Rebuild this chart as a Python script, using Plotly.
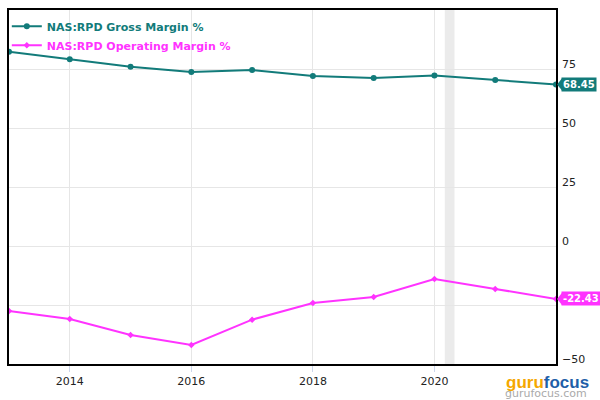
import plotly.graph_objects as go

years = [2013, 2014, 2015, 2016, 2017, 2018, 2019, 2020, 2021, 2022]
gross_margin = [82.3, 79.1, 76.0, 73.7, 74.6, 72.0, 71.2, 72.2, 70.3, 68.45]
operating_margin = [-27.5, -30.9, -37.7, -41.9, -31.2, -24.2, -21.6, -14.0, -18.2, -22.43]
recession = [2020.17, 2020.33]
x_ticks = [2014, 2016, 2018, 2020]
y_ticks = [-50, -25, 0, 25, 50, 75]
y_tick_text = ["\u221250", "", "0", "25", "50", "75"]

teal = "#127b7a"
magenta = "#ff33ff"
font = "DejaVu Sans"

fig = go.Figure()
fig.add_trace(go.Scatter(
    x=years, y=gross_margin, mode="lines+markers",
    name="<b><span style='color:%s'>NAS:RPD Gross Margin %%</span></b>" % teal,
    line=dict(color=teal, width=2), marker=dict(size=6, color=teal),
))
fig.add_trace(go.Scatter(
    x=years, y=operating_margin, mode="lines+markers",
    name="<b><span style='color:%s'>NAS:RPD Operating Margin %%</span></b>" % magenta,
    line=dict(color=magenta, width=2), marker=dict(size=5, color=magenta, symbol="diamond"),
))

fig.add_vrect(x0=recession[0], x1=recession[1], fillcolor="#ebebeb", line_width=0, layer="below")

for vals, col in [(gross_margin, teal), (operating_margin, magenta)]:
    v = vals[-1]
    fig.add_annotation(
        x=1.0, xref="paper", y=v, yref="y", xanchor="left", yanchor="middle",
        xshift=5, text="<b>%.2f</b>" % v,
        showarrow=False, bgcolor=col, font=dict(color="white", size=10, family=font),
        borderpad=1,
    )
    fig.add_shape(type="path", xref="paper", yref="y",
                  path="M 1.002 %f L 1.011 %f L 1.011 %f Z" % (v, v + 2.6, v - 2.6),
                  fillcolor=col, line_width=0)

fig.add_annotation(x=1.0, xref="paper", y=0, yref="paper", xanchor="right", yanchor="top",
                   xshift=35, yshift=-7,
                   text="<b><span style='color:#f5a800'>guru</span><span style='color:#1f5fa8'>focus</span></b>",
                   showarrow=False, font=dict(size=17, family="Liberation Sans Narrow, Liberation Sans"))
fig.add_annotation(x=1.0, xref="paper", y=0, yref="paper", xanchor="right", yanchor="top",
                   xshift=33, yshift=-21, text="gurufocus.com",
                   showarrow=False, font=dict(size=11, color="#aaaaaa", family=font))

fig.update_layout(
    width=600, height=400,
    margin=dict(l=9, r=44, t=10, b=36, autoexpand=False),
    plot_bgcolor="white", paper_bgcolor="white",
    showlegend=True,
    legend=dict(x=-0.004, y=0.995, xanchor="left", yanchor="top", bgcolor="rgba(0,0,0,0)",
                font=dict(size=11, family=font), tracegroupgap=0, itemwidth=30),
    xaxis=dict(range=[2013, 2022], tickvals=x_ticks, ticktext=[str(t) for t in x_ticks],
               showgrid=True, gridcolor="#e6e6e6", showline=True, linecolor="black", linewidth=1.5,
               mirror=True, ticks="outside", ticklen=6, tickcolor="#ccd6eb",
               tickfont=dict(size=11, family=font, color="#222"), zeroline=False),
    yaxis=dict(range=[-50, 100], tickvals=y_ticks, side="right",
               ticktext=y_tick_text, ticklabelshift=-5, ticklabelstandoff=2,
               showgrid=True, gridcolor="#e6e6e6", showline=True, linecolor="black", linewidth=1.5,
               mirror=True, ticks="", tickfont=dict(size=11, family=font, color="#222"), zeroline=False),
)

fig.write_html("out.html", config={"displayModeBar": False},
               post_script="document.body.style.margin='0px';")
